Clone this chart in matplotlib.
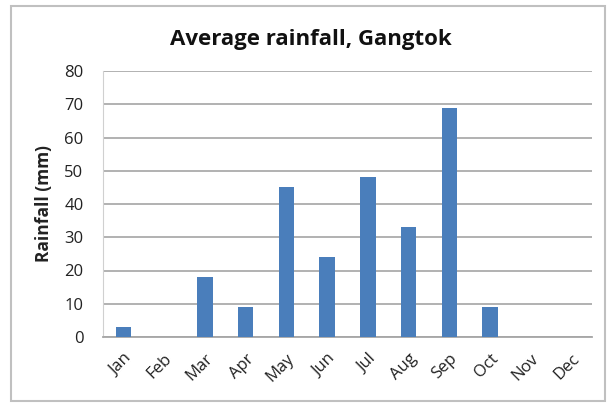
import matplotlib
matplotlib.use('Agg')
import matplotlib.pyplot as plt
from matplotlib.patches import Rectangle

months = ['Jan', 'Feb', 'Mar', 'Apr', 'May', 'Jun',
          'Jul', 'Aug', 'Sep', 'Oct', 'Nov', 'Dec']
rainfall = [3, 0, 18, 9, 45, 24, 48, 33, 69, 9, 0, 0]
y_ticks = [0, 10, 20, 30, 40, 50, 60, 70, 80]

plt.rcParams['font.family'] = ['Open Sans', 'DejaVu Sans']

fig = plt.figure(figsize=(6.12, 4.05), dpi=100)
fig.patch.set_facecolor('white')

# outer chart frame
fig.patches.append(Rectangle(
    (11 / 612, 4 / 405), 594 / 612, 395 / 405,
    transform=fig.transFigure, fill=False,
    edgecolor='#c0c0c0', linewidth=1.5))

ax = fig.add_axes([103 / 612, 1 - 337 / 405, 489 / 612, 266 / 405])

ax.bar(range(len(months)), rainfall, width=0.38, color='#4a7ebb', zorder=3)

ax.set_ylim(0, 80)
ax.set_xlim(-0.5, len(months) - 0.5)
ax.set_yticks(y_ticks)
ax.yaxis.grid(True, color='#ababab', linewidth=1.3, zorder=0)

ax.set_xticks(range(len(months)))
ax.set_xticklabels(months, rotation=45, ha='right', rotation_mode='anchor',
                   fontsize=12, color='#222222')
ax.tick_params(axis='y', labelsize=12, labelcolor='#222222', length=0, pad=14)
ax.tick_params(axis='x', length=0, pad=10)

for side in ['top', 'right']:
    ax.spines[side].set_visible(False)
ax.spines['left'].set_color('#d0d0d0')
ax.spines['left'].set_linewidth(0.8)
ax.spines['bottom'].set_color('#a6a6a6')
ax.spines['bottom'].set_linewidth(1.3)

ax.set_ylabel('Rainfall (mm)', fontsize=12.5, fontweight='bold', labelpad=8,
              color='#222222')

fig.text(311 / 612, 1 - 39 / 405, 'Average rainfall, Gangtok',
         ha='center', va='center', fontsize=16, fontweight='bold',
         color='#111111')

plt.savefig('out.png', dpi=100)
